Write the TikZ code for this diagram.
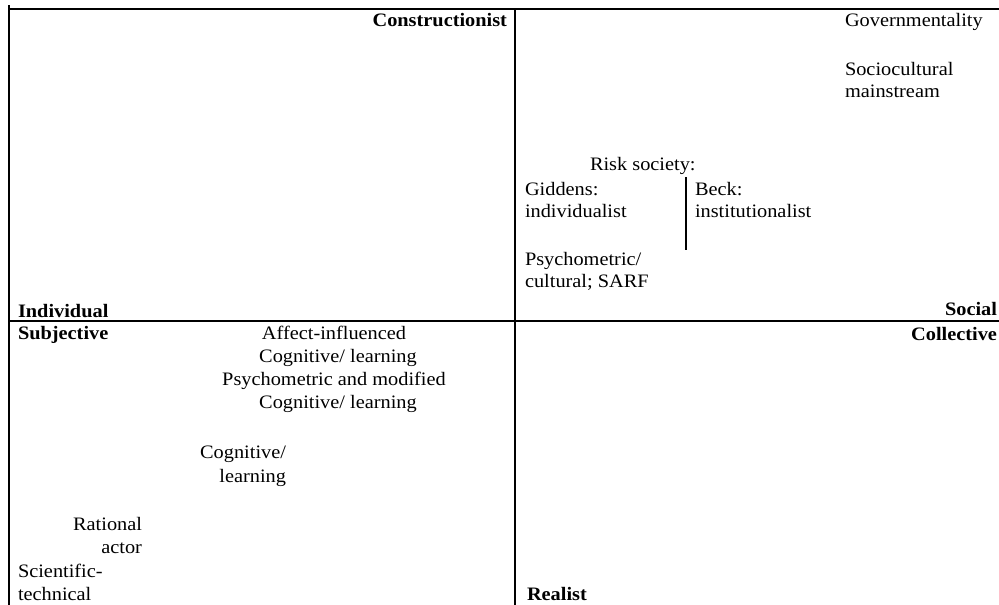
\documentclass[tikz,border=0pt]{standalone}
\usepackage{fontspec}
\setmainfont{Liberation Serif}[FakeStretch=1.07]
\begin{document}
\begin{tikzpicture}[x=1pt,y=-1pt,
  every node/.style={inner sep=0pt,outer sep=0pt,text=black},
  lbl/.style={font=\fontsize{19}{22.5}\selectfont},
  bld/.style={font=\fontsize{19}{22.5}\selectfont\bfseries},
  frame/.style={line width=1.6pt,draw=black},
  thin/.style={line width=1.3pt,draw=black}]
\useasboundingbox (0,0) rectangle (999,605);
% frame coordinates
\coordinate (tl) at (9,5);
\coordinate (tlh) at (9,9);
\coordinate (tr) at (999,9);
\coordinate (bl) at (9,605);
\coordinate (mt) at (515,9);
\coordinate (mb) at (515,605);
\coordinate (ml) at (9,321);
\coordinate (mr) at (999,321);
\coordinate (rt) at (686,177);
\coordinate (rb) at (686,250);
\draw[frame] (tlh) -- (tr);
\draw[frame] (tl) -- (bl);
\draw[frame] (mt) -- (mb);
\draw[frame] (ml) -- (mr);
\draw[thin] (rt) -- (rb);
% labels
\node[bld,anchor=base east] (con) at (507,27) {Constructionist};
\node[lbl,anchor=base west] (gov) at (845,27) {Governmentality};
\node[lbl,anchor=base west] (soc1) at (845,75) {Sociocultural};
\node[lbl,anchor=base west] (soc2) at (845,97) {mainstream};
\node[lbl,anchor=base west] (risk) at (590,170) {Risk society:};
\node[lbl,anchor=base west] (gid1) at (525,195) {Giddens:};
\node[lbl,anchor=base west] (gid2) at (525,217) {individualist};
\node[lbl,anchor=base west] (beck1) at (695,195) {Beck:};
\node[lbl,anchor=base west] (beck2) at (695,217) {institutionalist};
\node[lbl,anchor=base west] (psy1) at (525,265) {Psychometric/};
\node[lbl,anchor=base west] (psy2) at (525,287) {cultural; SARF};
\node[bld,anchor=base west] (ind) at (18,317) {Individual};
\node[bld,anchor=base east] (socl) at (997,315) {Social};
\node[bld,anchor=base west] (subj) at (18,339) {Subjective};
\node[bld,anchor=base east] (coll) at (997,340) {Collective};
\node[lbl,anchor=base] (aff1) at (334,339) {Affect-influenced};
\node[lbl,anchor=base] (aff2) at (338,362) {Cognitive/ learning};
\node[lbl,anchor=base] (aff3) at (334,385) {Psychometric and modified};
\node[lbl,anchor=base] (aff4) at (338,408) {Cognitive/ learning};
\node[lbl,anchor=base east] (cog1) at (286,458) {Cognitive/};
\node[lbl,anchor=base east] (cog2) at (286,482) {learning};
\node[lbl,anchor=base east] (rat1) at (142,530) {Rational};
\node[lbl,anchor=base east] (rat2) at (142,553) {actor};
\node[lbl,anchor=base west] (sci1) at (18,577) {Scientific-};
\node[lbl,anchor=base west] (sci2) at (18,600) {technical};
\node[bld,anchor=base west] (real) at (527,600) {Realist};
\end{tikzpicture}
\end{document}
